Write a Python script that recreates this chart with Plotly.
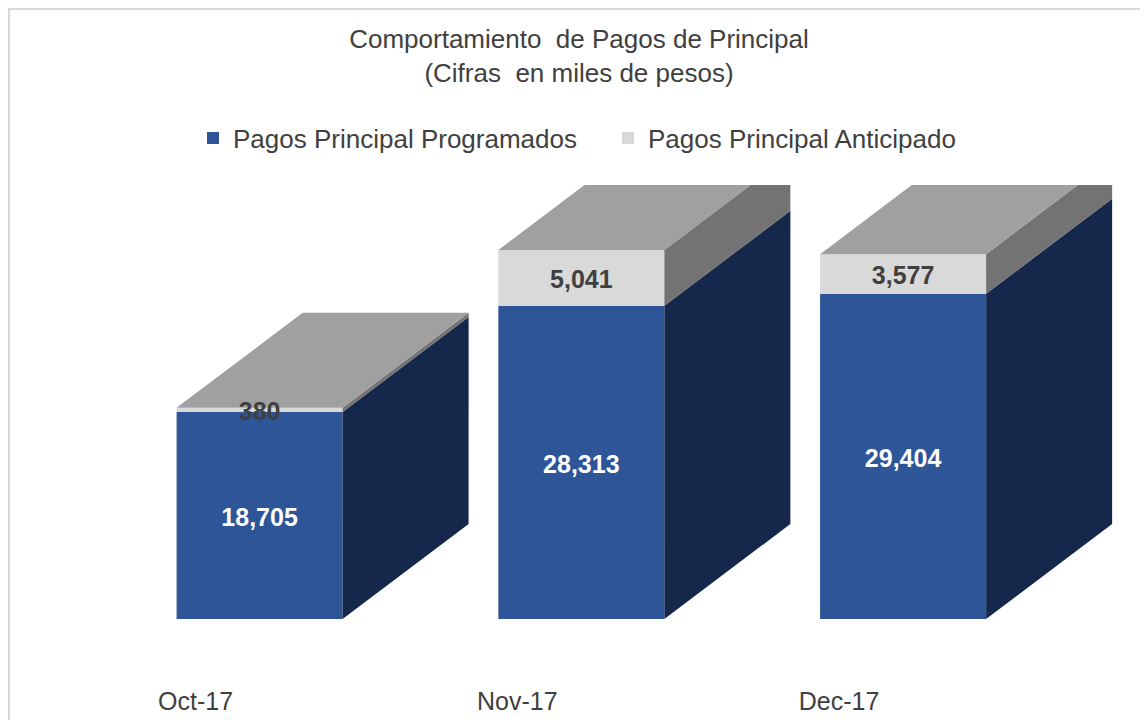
import plotly.graph_objects as go

# ---------------- data ----------------
categories = ["Oct-17", "Nov-17", "Dec-17"]
programados = [18705, 28313, 29404]
anticipado = [380, 5041, 3577]
series_names = ["Pagos Principal Programados", "Pagos Principal Anticipado"]
title_lines = ["Comportamiento  de Pagos de Principal", "(Cifras  en miles de pesos)"]

# ---------------- style / geometry ----------------
# the page body adds an 8px margin, so the figure is drawn 8px smaller
W, H = 1140, 712
M_TOP, M_BOT = 177, 101
PLOT_H = H - M_TOP - M_BOT
X0_PX = 251.6          # pixel of first category centre
PX_PER_X = 321.75      # pixels per category step
PX_PER_Y = 0.011063    # pixels per unit value
BAR_W = 0.516
DEPTH_X = 126 / PX_PER_X
DEPTH_Y = 95 / PX_PER_Y
LABEL_SHIFT = -64 / PX_PER_X
LABEL_DROP = 4 / PX_PER_Y

BLUE = "#2E5597"
BLUE_SIDE = "#15284C"
LIGHT = "#D9D9D9"
GRAY_SIDE = "#737373"
GRAY_TOP = "#A0A0A0"
TEXT = "#404040"
FONT = "Liberation Sans, Arial, sans-serif"

x_pos = list(range(len(categories)))
x_range = [-X0_PX / PX_PER_X, (W - X0_PX) / PX_PER_X]
y_range = [0, PLOT_H / PX_PER_Y]

fig = go.Figure()

# front faces
fig.add_trace(go.Bar(x=x_pos, y=programados, width=BAR_W, name=series_names[0],
                     marker=dict(color=BLUE, line=dict(width=0)), hoverinfo="skip"))
fig.add_trace(go.Bar(x=x_pos, y=anticipado, base=programados, width=BAR_W, name=series_names[1],
                     marker=dict(color=LIGHT, line=dict(width=0)), hoverinfo="skip"))


def poly(xs, ys, color):
    fig.add_trace(go.Scatter(x=xs + [xs[0]], y=ys + [ys[0]], mode="lines", fill="toself",
                             fillcolor=color, line=dict(width=0, color=color),
                             showlegend=False, hoverinfo="skip"))


# side and top faces, derived from the values
for i, (p, a) in enumerate(zip(programados, anticipado)):
    xl, xr = i - BAR_W / 2, i + BAR_W / 2
    total = p + a
    poly([xr, xr + DEPTH_X, xr + DEPTH_X, xr], [0, DEPTH_Y, p + DEPTH_Y, p], BLUE_SIDE)
    poly([xr, xr + DEPTH_X, xr + DEPTH_X, xr], [p, p + DEPTH_Y, total + DEPTH_Y, total], GRAY_SIDE)
    poly([xl, xr, xr + DEPTH_X, xl + DEPTH_X], [total, total, total + DEPTH_Y, total + DEPTH_Y], GRAY_TOP)

# data labels
lab_x, lab_y, lab_t, lab_c = [], [], [], []
for i, (p, a) in enumerate(zip(programados, anticipado)):
    lab_x += [i, i]
    lab_y += [p / 2 - LABEL_DROP, p + a / 2 - LABEL_DROP]
    lab_t += [f"{p:,}", f"{a:,}"]
    lab_c += ["#FFFFFF", TEXT]
fig.add_trace(go.Scatter(x=lab_x, y=lab_y, mode="text", text=lab_t, textposition="middle center",
                         textfont=dict(family=FONT, size=25, color=lab_c, weight="bold"),
                         cliponaxis=False, showlegend=False, hoverinfo="skip"))


def py(px):
    return (H - M_BOT - px) / PLOT_H


fig.update_layout(
    width=W, height=H,
    margin=dict(l=0, r=0, t=M_TOP, b=M_BOT, pad=0),
    paper_bgcolor="white", plot_bgcolor="white",
    barmode="overlay",
    title=dict(text="<br>".join(title_lines), x=571 / W, xanchor="center",
               y=1 - 40 / H, yanchor="middle", yref="container",
               font=dict(family=FONT, size=26, color=TEXT)),
    legend=dict(orientation="h", x=185 / W, xanchor="left", y=py(130), yanchor="middle",
                font=dict(family=FONT, size=26, color=TEXT), bgcolor="rgba(0,0,0,0)",
                traceorder="normal", entrywidth=370),
    xaxis=dict(range=x_range, showgrid=False, zeroline=False, showline=False, ticks="",
               tickvals=[x + LABEL_SHIFT for x in x_pos], ticktext=categories,
               tickfont=dict(family=FONT, size=25, color=TEXT), ticklabelstandoff=65,
               fixedrange=True),
    yaxis=dict(range=y_range, visible=False, fixedrange=True),
    shapes=[
        dict(type="line", xref="paper", yref="paper", x0=1 / W, x1=1 / W, y0=py(0), y1=py(H + 5),
             line=dict(color="#D9D9D9", width=2)),
        dict(type="line", xref="paper", yref="paper", x0=0, x1=(W + 5) / W, y0=py(1), y1=py(1),
             line=dict(color="#D9D9D9", width=2)),
    ],
    showlegend=True,
)

fig.write_html("out.html")
